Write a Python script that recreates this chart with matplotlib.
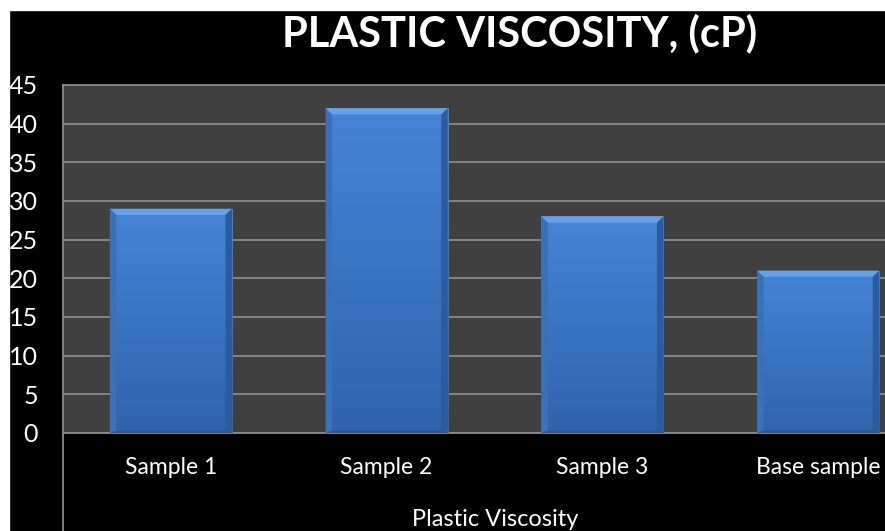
import matplotlib
matplotlib.use("Agg")
import matplotlib.pyplot as plt
import numpy as np
from matplotlib.patches import Rectangle, Polygon
from matplotlib.lines import Line2D

categories = ["Sample 1", "Sample 2", "Sample 3", "Base sample"]
values = [29, 42, 28, 21]
y_ticks = [0, 5, 10, 15, 20, 25, 30, 35, 40, 45]
title = "PLASTIC VISCOSITY, (cP)"
xlabel = "Plastic Viscosity"

W, H = 885, 531
fig = plt.figure(figsize=(W / 100, H / 100), dpi=100, facecolor="black")

# white margins on the top and left
fig.patches.append(Rectangle((0, 0), 9 / W, 1, transform=fig.transFigure, color="white", zorder=0))
fig.patches.append(Rectangle((0, 1 - 10 / H), 1, 10 / H, transform=fig.transFigure, color="white", zorder=0))

ax = fig.add_axes([63 / W, 1 - 433 / H, 863 / W, 348 / H])
ax.set_facecolor("#404040")
ax.grid(axis="y", color="#8a8a8a", linewidth=1.3)
ax.set_axisbelow(True)
for s in ax.spines.values():
    s.set_color("#8a8a8a")
    s.set_linewidth(1.3)
ax.tick_params(axis="y", length=0, pad=18, labelsize=18, labelcolor="white")
ax.tick_params(axis="x", length=0, pad=17, labelsize=16.5, labelcolor="white")
ax.set_xticks(range(len(categories)))
ax.set_xticklabels(categories, fontfamily="Lato")
ax.set_yticks(y_ticks)
for lbl in ax.get_yticklabels():
    lbl.set_fontfamily("Lato")

# blue bars with vertical gradient and bevelled edges
width = 0.566
grad = np.linspace(0, 1, 256).reshape(-1, 1)
cmap = matplotlib.colors.LinearSegmentedColormap.from_list("bar", ["#2f63ad", "#4585d6"])
for i, v in enumerate(values):
    x0, x1 = i - width / 2, i + width / 2
    bar = ax.bar(i, v, width=width, color="#3a75c4", zorder=2)[0]
    im = ax.imshow(grad, extent=(x0, x1, 0, v), origin="lower", cmap=cmap,
                   aspect="auto", zorder=3)
    im.set_clip_path(bar)
    bx = 0.03
    by = 0.8
    ax.add_patch(Polygon([(x0, v), (x1, v), (x1 - bx, v - by), (x0 + bx, v - by)],
                         closed=True, color="#67a2e8", zorder=4, lw=0))
    ax.add_patch(Polygon([(x0, v), (x0 + bx, v - by), (x0 + bx, by * 0.4), (x0, 0)],
                         closed=True, color="#3a70b8", zorder=4, lw=0))
    ax.add_patch(Polygon([(x1, v), (x1 - bx, v - by), (x1 - bx, by * 0.4), (x1, 0)],
                         closed=True, color="#2c5b9e", zorder=4, lw=0))
    ax.add_patch(Polygon([(x0, 0), (x1, 0), (x1 - bx, by * 0.4), (x0 + bx, by * 0.4)],
                         closed=True, color="#2a5797", zorder=4, lw=0))

ax.set_xlim(-0.5, len(categories) - 0.5)
ax.set_ylim(0, 45)

# vertical divider under the plot area
fig.add_artist(Line2D([63 / W, 63 / W], [0, 1 - 433 / H], transform=fig.transFigure,
                      color="#8a8a8a", lw=1.3))

fig.text(520 / W, 1 - 33 / H, title, ha="center", va="center", color="white",
         fontsize=30, fontweight="bold", fontfamily="Lato")
fig.text(495 / W, 1 - 519 / H, xlabel, ha="center", va="center", color="white",
         fontsize=17, fontfamily="Lato")

fig.savefig("out.png", dpi=100, facecolor="black")
